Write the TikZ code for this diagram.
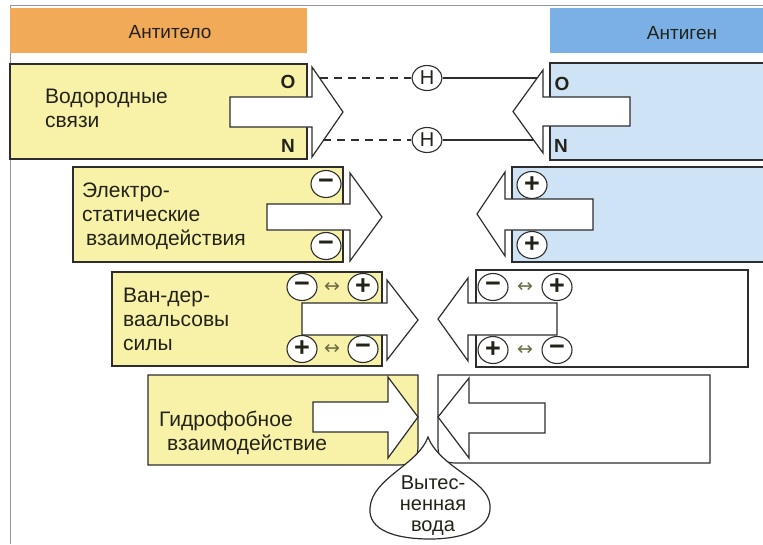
\documentclass[tikz,border=0pt]{standalone}
\usepackage{fontspec}
\setmainfont{Liberation Sans}
\newfontfamily\symfont{DejaVu Sans}
\usetikzlibrary{shapes.geometric}
\definecolor{ylw}{RGB}{247,242,168}
\definecolor{org}{RGB}{241,170,88}
\definecolor{blu}{RGB}{122,176,230}
\definecolor{lblu}{RGB}{206,228,246}
\definecolor{ln}{RGB}{45,45,45}
\definecolor{frm}{RGB}{150,150,150}
\definecolor{txt}{RGB}{35,35,25}
\definecolor{bicol}{RGB}{110,110,70}
\tikzset{
  frame/.style={draw=frm, line width=1pt},
  box/.style={draw=ln, line width=1.2pt},
  arr/.style={draw=ln, fill=white, line width=1.2pt, line join=miter},
  chg/.style={ellipse, draw=ln, fill=white, line width=1.1pt, minimum width=30pt, minimum height=27pt, inner sep=0pt, text=txt, font=\fontsize{27}{27}\selectfont\bfseries},
  atom/.style={ellipse, draw=ln, fill=white, line width=1.1pt, minimum width=30pt, minimum height=25pt, inner sep=0pt, text=txt, font=\fontsize{20}{20}\selectfont},
  lbl/.style={anchor=north west, align=left, inner sep=0pt, text=txt, font=\fontsize{21}{24}\selectfont},
  droptext/.style={align=center, inner sep=0pt, text=txt, font=\fontsize{20}{21}\selectfont},
  hdr/.style={text=txt, font=\fontsize{19}{19}\selectfont},
  el/.style={text=txt, font=\fontsize{19}{19}\selectfont\bfseries},
  bi/.style={text=bicol, font=\fontsize{19}{19}\selectfont\symfont},
  hbond/.style={draw=ln, line width=1.1pt, dash pattern=on 8pt off 6pt},
  conn/.style={draw=ln, line width=1.1pt}
}
\begin{document}
\begin{tikzpicture}[x=1pt,y=-1pt]
\useasboundingbox (0,0) rectangle (763,544);
\draw[frame] (10,544) -- (10,5) -- (763,5);
% headers
\fill[org] (10,8) rectangle (307,53);
\fill[blu] (550,8) rectangle (763,53);
\node[hdr] (hAb) at (170,32) {Антитело};
\node[hdr] (hAg) at (682,33) {Антиген};

% row 1: hydrogen bonds
\draw[box, fill=ylw] (10,64) rectangle (307,159);
\path[box, fill=lblu] (763,63) -- (550,63) -- (550,160) -- (763,160);
\draw[arr] (230,97) -- (312,97) -- (312,67) -- (343,112) -- (312,157) -- (312,127) -- (230,127) -- cycle;
\draw[arr] (630,97) -- (543,97) -- (543,70) -- (513,111.5) -- (543,153) -- (543,126) -- (630,126) -- cycle;
\node[el] (oL) at (288,82) {O};
\node[el] (nL) at (288,146) {N};
\node[el] (oR) at (562,84) {O};
\node[el] (nR) at (561,146) {N};
\node[atom] (h1) at (427,78) {H};
\node[atom] (h2) at (427,140) {H};
\coordinate (a1) at (320,78);
\coordinate (a2) at (323,140);
\coordinate (b1) at (537,78);
\coordinate (b2) at (534,140);
\draw[hbond] (a1) -- (h1);
\draw[hbond] (a2) -- (h2);
\draw[conn] (h1) -- (b1);
\draw[conn] (h2) -- (b2);
\node[lbl] (t1) at (45,89) {Водородные\\связи};

% row 2: electrostatic
\draw[box, fill=ylw] (73,167) rectangle (343,262);
\path[box, fill=lblu] (763,167) -- (512,167) -- (512,262) -- (763,262);
\draw[arr] (267,204) -- (350,204) -- (350,173) -- (382,217) -- (350,261) -- (350,230) -- (267,230) -- cycle;
\draw[arr] (593,199) -- (505,199) -- (505,172) -- (477,214) -- (505,256) -- (505,230) -- (593,230) -- cycle;
\node[chg] (m1) at (326,184) {−};
\node[chg] (m2) at (326,246) {−};
\node[chg] (p1) at (532,185) {+};
\node[chg] (p2) at (532,245) {+};
\node[lbl] (t2) at (82,183) {Электро-\\статические\\\hspace{4pt}взаимодействия};

% row 3: van der Waals
\draw[box, fill=ylw] (112,272) rectangle (382,366);
\draw[box, fill=white] (476,270) rectangle (748,367);
\draw[arr] (302,303) -- (387,303) -- (387,280) -- (418,320) -- (387,360) -- (387,335) -- (302,335) -- cycle;
\draw[arr] (557,303) -- (468,303) -- (468,278) -- (438,319) -- (468,361) -- (468,335) -- (557,335) -- cycle;
\node[chg] (v1) at (302,287) {−};
\node[bi]  (v2) at (332,287) {↔};
\node[chg] (v3) at (363,287) {+};
\node[chg] (v4) at (302,349) {+};
\node[bi]  (v5) at (332,349) {↔};
\node[chg] (v6) at (363,349) {−};
\node[chg] (w1) at (493,287) {−};
\node[bi]  (w2) at (525,287) {↔};
\node[chg] (w3) at (557,287) {+};
\node[chg] (w4) at (493,350) {+};
\node[bi]  (w5) at (525,350) {↔};
\node[chg] (w6) at (557,350) {−};
\node[lbl] (t3) at (123,288) {Ван-дер-\\ваальсовы\\силы};

% row 4: hydrophobic
\draw[box, fill=ylw] (148,375) -- (418,375) -- (418,447) .. controls (418,459) and (412,465) .. (400,465) -- (148,465) -- cycle;
\draw[box, fill=white] (710,375) -- (438,375) -- (438,447) .. controls (438,459) and (444,463) .. (456,463) -- (710,463) -- cycle;
\draw[arr] (313,402) -- (388,402) -- (388,377) -- (418,417) -- (388,458) -- (388,432) -- (313,432) -- cycle;
\draw[arr] (545,403) -- (469,403) -- (469,378) -- (438,417) -- (469,458) -- (469,433) -- (545,433) -- cycle;
\node[lbl] (t4) at (159,411) {Гидрофобное\\\hspace{8pt}взаимодействие};

% displaced water drop
\draw[box, fill=white] (428,437) .. controls (418,465) and (372,478) .. (370,508)
  .. controls (368,530) and (395,539) .. (430,539)
  .. controls (465,539) and (492,528) .. (490,505)
  .. controls (488,480) and (440,468) .. (428,437) -- cycle;
\node[droptext] (wat) at (433,506) {Вытес-\\ненная\\вода};
\end{tikzpicture}
\end{document}
